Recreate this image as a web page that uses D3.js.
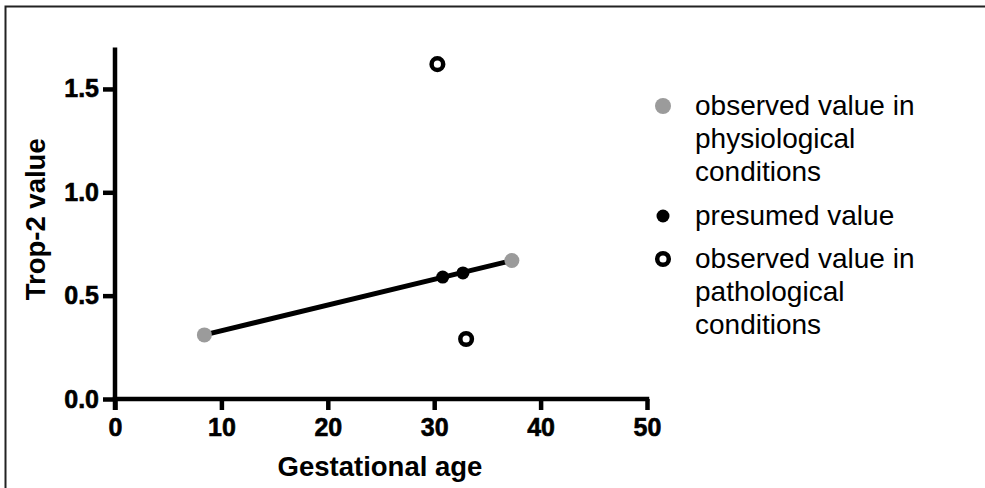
<!DOCTYPE html>
<html>
<head>
<meta charset="utf-8">
<script src="https://cdn.jsdelivr.net/npm/d3@7/dist/d3.min.js"></script>
<style>
  html, body { margin: 0; padding: 0; background: #fff; }
  svg { display: block; }
  text { font-family: "Liberation Sans", Arial, sans-serif; }
</style>
</head>
<body>
<svg id="chart" width="985" height="488"></svg>
<script>
// Observed values in physiological conditions (endpoints of the fitted line)
const physioX = [8.4, 37.3];
const physioY = [0.31, 0.67];
// Presumed values lying on the line
const presumedX = [30.8, 32.7];
const presumedY = [0.59, 0.61];
// Observed values in pathological conditions
const pathoX = [30.3, 33.0];
const pathoY = [1.62, 0.29];

const xTicks = [0, 10, 20, 30, 40, 50];
const yTicks = [0.0, 0.5, 1.0, 1.5];
const xTitle = "Gestational age";
const yTitle = "Trop-2 value";
const legendItems = [
  { kind: "physio", lines: ["observed value in", "physiological", "conditions"] },
  { kind: "presumed", lines: ["presumed value"] },
  { kind: "patho", lines: ["observed value in", "pathological", "conditions"] }
];

const svg = d3.select("#chart");

// outer frame
svg.append("rect")
  .attr("x", 5.5).attr("y", 6.5)
  .attr("width", 1000).attr("height", 500)
  .attr("fill", "none").attr("stroke", "#222").attr("stroke-width", 2);

const x = d3.scaleLinear().domain([0, 50]).range([115, 647]);
const y = d3.scaleLinear().domain([0, 1.7]).range([399, 47.6]);

const AXW = 4.5;

// x axis
const xAxis = svg.append("g")
  .attr("transform", `translate(0,${y(0)})`)
  .call(d3.axisBottom(x).tickValues(xTicks).tickSize(11).tickPadding(8).tickFormat(d3.format("d")));
xAxis.select(".domain").attr("d", `M${x(0) - AXW / 2},0H${x(50) + AXW / 2}`)
  .attr("stroke", "#000").attr("stroke-width", AXW);
xAxis.selectAll(".tick line").attr("stroke", "#000").attr("stroke-width", AXW);
xAxis.selectAll(".tick text")
  .attr("font-size", 25).attr("font-weight", "bold").attr("fill", "#000")
  .attr("stroke", "#000").attr("stroke-width", 0.6)
  .attr("font-family", "Liberation Sans, Arial, sans-serif");

// y axis
const yAxis = svg.append("g")
  .attr("transform", `translate(${x(0)},0)`)
  .call(d3.axisLeft(y).tickValues(yTicks).tickSize(12).tickPadding(4).tickFormat(d3.format(".1f")));
yAxis.select(".domain").attr("d", `M0,${y(1.7)}V${y(0) + 11}`)
  .attr("stroke", "#000").attr("stroke-width", AXW);
yAxis.selectAll(".tick line").attr("stroke", "#000").attr("stroke-width", AXW);
yAxis.selectAll(".tick text")
  .attr("font-size", 25).attr("font-weight", "bold").attr("fill", "#000")
  .attr("stroke", "#000").attr("stroke-width", 0.6)
  .attr("font-family", "Liberation Sans, Arial, sans-serif");

// axis titles
svg.append("text")
  .attr("x", (x(0) + x(50)) / 2 - 1).attr("y", 476)
  .attr("text-anchor", "middle")
  .attr("font-size", 27.5).attr("font-weight", "bold")
  .text(xTitle);

svg.append("text")
  .attr("transform", `translate(45,${(y(0) + y(1.7)) / 2 - 4}) rotate(-90)`)
  .attr("text-anchor", "middle")
  .attr("font-size", 27.5).attr("font-weight", "bold")
  .text(yTitle);

// fitted line through the physiological values
svg.append("line")
  .attr("x1", x(physioX[0])).attr("y1", y(physioY[0]))
  .attr("x2", x(physioX[1])).attr("y2", y(physioY[1]))
  .attr("stroke", "#000").attr("stroke-width", 5);

const GRAY = "#9b9b9b";

// physiological points
svg.selectAll(".physio").data(physioX).join("circle")
  .attr("class", "physio")
  .attr("cx", d => x(d)).attr("cy", (d, i) => y(physioY[i]))
  .attr("r", 7.5).attr("fill", GRAY);

// presumed points
svg.selectAll(".presumed").data(presumedX).join("circle")
  .attr("class", "presumed")
  .attr("cx", d => x(d)).attr("cy", (d, i) => y(presumedY[i]))
  .attr("r", 6.5).attr("fill", "#000");

// pathological points
svg.selectAll(".patho").data(pathoX).join("circle")
  .attr("class", "patho")
  .attr("cx", d => x(d)).attr("cy", (d, i) => y(pathoY[i]))
  .attr("r", 5.8).attr("fill", "#fff").attr("stroke", "#000").attr("stroke-width", 4.5);

// legend
const legend = svg.append("g");
const lineH = 33;
const groupStart = [115, 225, 268];
legendItems.forEach((item, gi) => {
  const base = groupStart[gi];
  const mx = 663, my = base - 9;
  if (item.kind === "physio") {
    legend.append("circle").attr("cx", mx).attr("cy", my).attr("r", 8).attr("fill", GRAY);
  } else if (item.kind === "presumed") {
    legend.append("circle").attr("cx", mx).attr("cy", my).attr("r", 6.5).attr("fill", "#000");
  } else {
    legend.append("circle").attr("cx", mx).attr("cy", my).attr("r", 5.8)
      .attr("fill", "#fff").attr("stroke", "#000").attr("stroke-width", 4.5);
  }
  item.lines.forEach((ln, li) => {
    legend.append("text")
      .attr("x", 695).attr("y", base + li * lineH)
      .attr("font-size", 28).attr("fill", "#000")
      .text(ln);
  });
});
</script>
</body>
</html>
